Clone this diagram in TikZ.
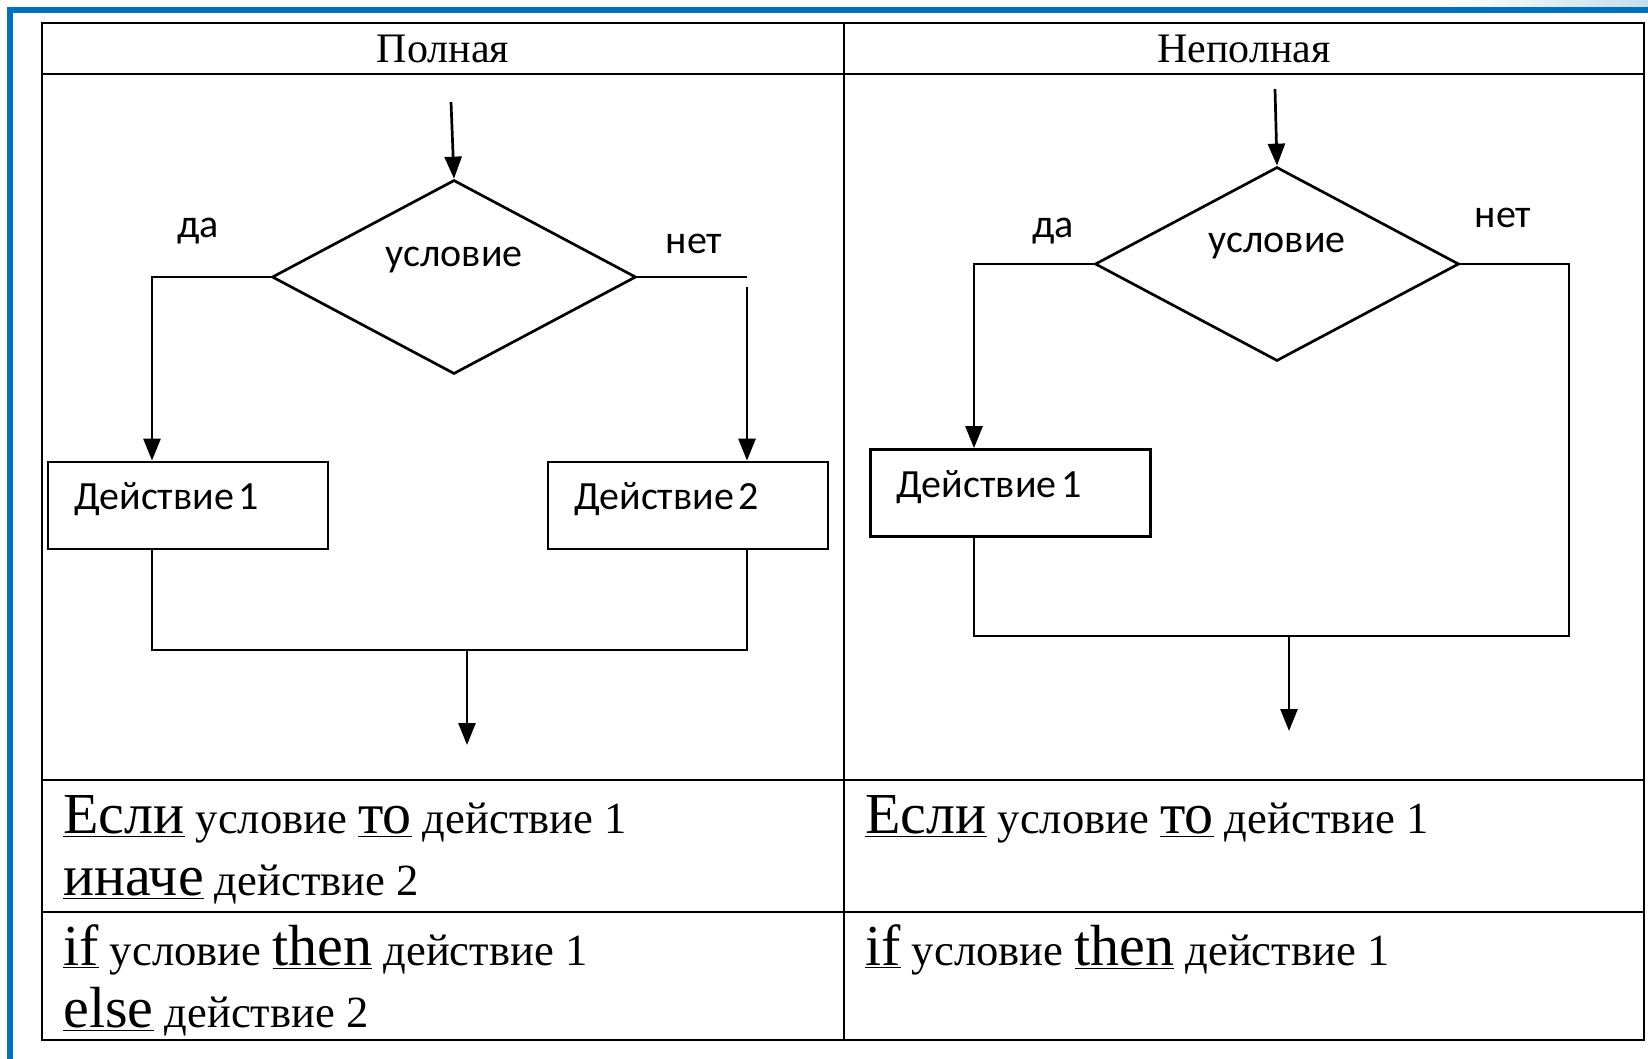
\documentclass[tikz,border=0pt]{standalone}
\usepackage{fontspec}
\setmainfont{Liberation Serif}
\newfontfamily\calibri{Carlito}
\usetikzlibrary{shapes.geometric, arrows.meta}
\definecolor{slideblue}{RGB}{0,112,192}
\definecolor{slidesky}{RGB}{196,222,238}
\tikzset{>={Triangle[length=11pt, width=8.5pt]},
  cell/.style={line width=1.3pt},
  flow/.style={line width=1.35pt},
  cond/.style={diamond, draw, line width=1.35pt, aspect=1.876, minimum width=182pt, minimum height=97pt, inner sep=0pt,
    font=\calibri\fontsize{20}{22}\selectfont, text height=10pt, text depth=21pt},
  act/.style={rectangle, draw, line width=1.35pt, minimum height=43.5pt, text width=114pt, inner xsep=13pt, align=left,
    font=\calibri\fontsize{20}{22}\selectfont, text height=13pt, text depth=8.6pt},
  lbl/.style={font=\calibri\fontsize{20}{22}\selectfont},
  head/.style={font=\fontsize{21}{24}\selectfont},
  code/.style={anchor=base west, inner sep=0pt, font=\fontsize{22.3}{24}\selectfont}}
\newcommand\kw[1]{{\fontsize{29}{30}\selectfont\underline{#1}}}

\begin{document}
\begin{tikzpicture}[x=0.5pt, y=-0.5pt]
    \useasboundingbox (0,0) rectangle (1648,1059);
    % slide frame
    \shade[left color=white, right color=slidesky] (1440,0) rectangle (1648,8);
    \draw[slideblue, line width=3pt] (10,1059) -- (10,10) -- (1648,10);

    % table
    \draw[cell] (42,23) rectangle (1644,1040);
    \draw[cell] (42,74) -- (1644,74) (42,780) -- (1644,780) (42,912) -- (1644,912) (844,23) -- (844,1040);
    \node[head] (full) at (443,49) {Полная};
    \node[head] (part) at (1244,49) {Неполная};

    % full branch
    \coordinate (in1) at (451,102);
    \node[cond] (cond1) at (454,277) {условие};
    \node[act] (act11) at (188,505.5) {Действие\hspace{0.12em}1};
    \node[act] (act12) at (688,505.5) {Действие\hspace{0.12em}2};
    \node[lbl] (yes1) at (198,231) {да};
    \node[lbl] (no1) at (694,244) {нет};
    \coordinate (y1) at (152,277);
    \coordinate (n1) at (747,277);
    \coordinate (n1b) at (747,287);
    \coordinate (j1l) at (152,650);
    \coordinate (j1r) at (747,650);
    \coordinate (j1m) at (467,650);
    \coordinate (out1) at (467,745);
    \draw[flow, ->] (in1) -- (cond1.north);
    \draw[flow, ->] (cond1.west) -- (y1) -- (y1 |- act11.north);
    \draw[flow] (cond1.east) -- (n1);
    \draw[flow, ->] (n1b) -- (n1b |- act12.north);
    \draw[flow] (j1l |- act11.south) -- (j1l) -- (j1r) -- (j1r |- act12.south);
    \draw[flow, ->] (j1m) -- (out1);

    % short branch
    \coordinate (in2) at (1275,89);
    \node[cond] (cond2) at (1277,264) {условие};
    \node[act] (act21) at (1010.5,493) {Действие\hspace{0.12em}1};
    \node[lbl] (yes2) at (1053,231) {да};
    \node[lbl] (no2) at (1503,218) {нет};
    \coordinate (y2) at (974,264);
    \coordinate (n2) at (1569,264);
    \coordinate (j2l) at (974,636);
    \coordinate (j2r) at (1569,636);
    \coordinate (j2m) at (1289,636);
    \coordinate (out2) at (1289,731);
    \draw[flow, ->] (in2) -- (cond2.north);
    \draw[flow, ->] (cond2.west) -- (y2) -- (y2 |- act21.north);
    \draw[flow] (cond2.east) -- (n2) -- (j2r) -- (j2l) -- (j2l |- act21.south);
    \draw[flow, ->] (j2m) -- (out2);

    % notation rows
    \node[code] (ru1) at (63,833) {\kw{Если} условие \kw{то} действие 1};
    \node[code] (ru2) at (63,895) {\kw{иначе} действие 2};
    \node[code] (en1) at (63,965) {\kw{if} условие \kw{then} действие 1};
    \node[code] (en2) at (63,1027) {\kw{else} действие 2};
    \node[code] (ru3) at (865,833) {\kw{Если} условие \kw{то} действие 1};
    \node[code] (en3) at (865,965) {\kw{if} условие \kw{then} действие 1};
\end{tikzpicture}
\end{document}
